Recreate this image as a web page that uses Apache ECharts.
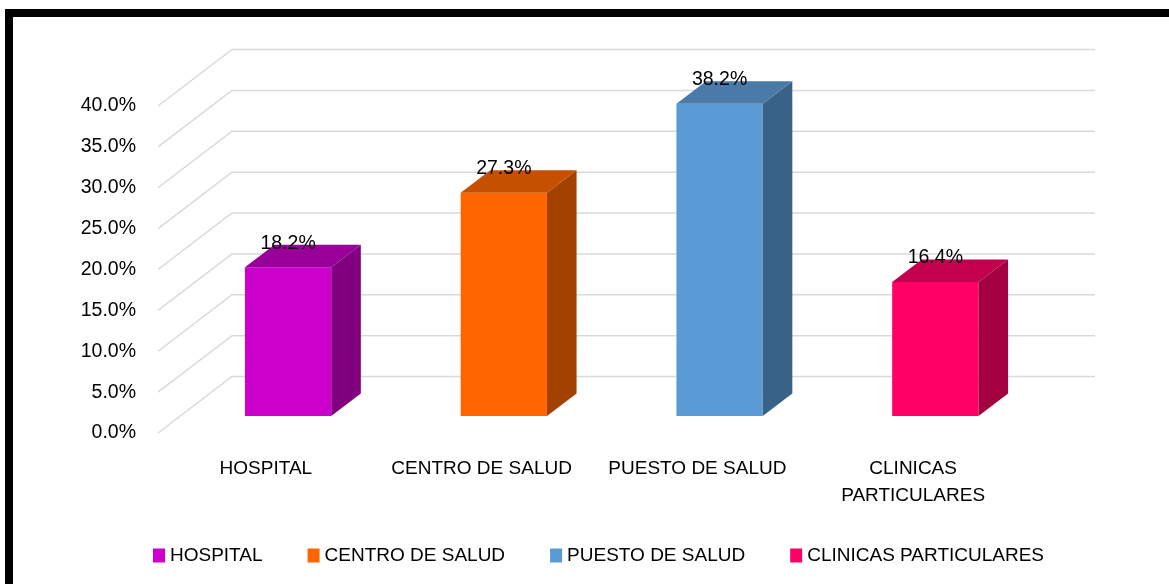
<!DOCTYPE html>
<html>
<head>
<meta charset="utf-8">
<script src="https://cdn.jsdelivr.net/npm/echarts@6/dist/echarts.min.js"></script>
<style>
  html, body { margin: 0; padding: 0; background: #fff; }
  #chart { width: 1169px; height: 584px; }
</style>
</head>
<body>
<div id="chart"></div>
<script>
var categories = ['HOSPITAL', 'CENTRO DE SALUD', 'PUESTO DE SALUD', 'CLINICAS\nPARTICULARES'];
var seriesNames = ['HOSPITAL', 'CENTRO DE SALUD', 'PUESTO DE SALUD', 'CLINICAS PARTICULARES'];
var values = [18.2, 27.3, 38.2, 16.4];
var yTicks = [0, 5, 10, 15, 20, 25, 30, 35, 40];

var frontColors = ['#cc00cc', '#ff6600', '#5b9bd5', '#ff0066'];
var sideColors = ['#800080', '#a34100', '#386387', '#a3003f'];
var topColors = ['#990099', '#c45000', '#4a7aa8', '#c2004d'];

// depth vector of the 3d box (front plane -> back wall)
var DX = 74, DY = -56.5;
var FONT = '19.5px "Liberation Sans", Arial, sans-serif';

var chart = echarts.init(document.getElementById('chart'));

function renderGrid(params, api) {
	var cs = params.coordSys;
	var y = api.coord([0, api.value(1)])[1];
	return {
		type: 'polyline',
		shape: { points: [[cs.x, y], [cs.x + DX, y + DY], [cs.x + cs.width + DX, y + DY]] },
		style: { stroke: '#d9d9d9', lineWidth: 1.5, fill: null }
	};
}

function renderBar(params, api) {
	var ci = api.value(0), v = api.value(1);
	var base = api.coord([ci, 0]);
	var top = api.coord([ci, v]);
	var band = api.size([1, 0])[0];
	var hw = band * 0.2;
	var fx = DX * 0.3, fy = DY * 0.3;
	var bx = DX * 0.4, by = DY * 0.4;
	var x0 = base[0] - hw + fx, x1 = base[0] + hw + fx;
	var yb = base[1] + fy, yt = top[1] + fy;
	return {
		type: 'group',
		children: [
			{ type: 'rect', shape: { x: x0, y: yt, width: x1 - x0, height: yb - yt }, style: { fill: frontColors[ci] } },
			{ type: 'polygon', shape: { points: [[x1, yb], [x1 + bx, yb + by], [x1 + bx, yt + by], [x1, yt]] }, style: { fill: sideColors[ci] } },
			{ type: 'polygon', shape: { points: [[x0, yt], [x1, yt], [x1 + bx, yt + by], [x0 + bx, yt + by]] }, style: { fill: topColors[ci] } },
			{ type: 'text', style: { text: v.toFixed(1) + '%', x: base[0] + fx, y: yt - 24, font: FONT, fill: '#000',
				textAlign: 'center', textVerticalAlign: 'middle', align: 'center', verticalAlign: 'middle' } }
		]
	};
}

var series = [{
	type: 'custom',
	name: 'grid',
	renderItem: renderGrid,
	data: yTicks.map(function (t) { return [0, t]; }),
	silent: true,
	z: 1
}];
values.forEach(function (v, i) {
	series.push({
		type: 'custom',
		name: seriesNames[i],
		renderItem: renderBar,
		itemStyle: { color: frontColors[i] },
		data: [[i, v]],
		encode: { x: 0, y: 1 },
		z: 2
	});
});

option = {
	animation: false,
	grid: { left: 158, right: 148, top: 106, bottom: 151 },
	xAxis: {
		type: 'category',
		data: categories,
		axisLine: { show: false },
		axisTick: { show: false },
		axisLabel: { fontSize: 19, fontFamily: '"Liberation Sans", Arial', color: '#000', margin: 22, lineHeight: 27, interval: 0 }
	},
	yAxis: {
		type: 'value',
		min: 0,
		max: 40,
		interval: 5,
		splitLine: { show: false },
		axisLine: { show: false },
		axisTick: { show: false },
		axisLabel: {
			fontSize: 19.5, fontFamily: '"Liberation Sans", Arial', color: '#000', margin: 22,
			formatter: function (v) { return v.toFixed(1) + '%'; }
		}
	},
	legend: {
		data: seriesNames,
		left: 148,
		top: 541,
		icon: 'rect',
		itemWidth: 12,
		itemHeight: 14,
		itemGap: 45,
		textStyle: { fontSize: 19, fontFamily: '"Liberation Sans", Arial', color: '#000' }
	},
	graphic: [
		{ type: 'rect', shape: { x: 5, y: 9, width: 1164, height: 8 }, style: { fill: '#000' } },
		{ type: 'rect', shape: { x: 5, y: 9, width: 8, height: 575 }, style: { fill: '#000' } }
	],
	series: series
};

chart.setOption(option);
</script>
</body>
</html>
